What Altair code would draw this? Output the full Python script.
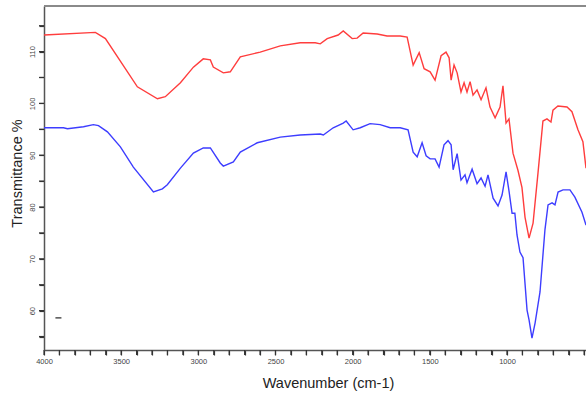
import altair as alt
import pandas as pd

# Red spectrum (upper)
red_wn = [4000, 3667, 3602, 3395, 3265, 3214, 3116, 3032, 2968, 2922, 2903, 2838, 2793,
          2728, 2599, 2469, 2340, 2243, 2210, 2165, 2094, 2061, 2003, 1971, 1932, 1841,
          1777, 1692, 1647, 1608, 1569, 1537, 1498, 1466, 1427, 1395, 1375, 1362, 1343,
          1323, 1298, 1278, 1259, 1239, 1220, 1194, 1168, 1136, 1110, 1077, 1045, 1026,
          1006, 987, 961, 929, 903, 883, 857, 831, 799, 767, 741, 715, 702, 670, 611,
          579, 540, 508, 488]
red_t = [113.2, 113.7, 112.5, 103.2, 100.9, 101.3, 104.0, 107.0, 108.6, 108.4, 107.0, 105.9, 106.1,
         109.0, 109.9, 111.1, 111.7, 111.7, 111.5, 112.5, 113.2, 114.0, 112.5, 112.6, 113.6, 113.4,
         113.0, 113.0, 112.8, 107.4, 109.8, 106.7, 106.1, 104.5, 109.2, 109.9, 108.8, 104.5, 107.4,
         105.9, 102.2, 104.0, 102.2, 104.2, 101.6, 102.6, 100.7, 103.0, 99.3, 97.2, 99.3, 103.4,
         96.2, 97.0, 90.4, 87.1, 83.8, 78.0, 74.0, 76.9, 86.6, 96.6, 97.0, 96.4, 98.7, 99.5, 99.3,
         98.4, 94.9, 92.6, 87.5]

# Blue spectrum (lower)
blue_wn = [4000, 3874, 3848, 3744, 3680, 3647, 3589, 3505, 3421, 3291, 3233, 3201, 3116,
           3032, 2968, 2922, 2858, 2838, 2773, 2728, 2618, 2469, 2340, 2210, 2190, 2126,
           2061, 2042, 1997, 1951, 1887, 1822, 1757, 1692, 1641, 1608, 1582, 1550, 1524,
           1498, 1466, 1440, 1408, 1382, 1362, 1349, 1323, 1298, 1272, 1259, 1226, 1194,
           1168, 1142, 1123, 1090, 1058, 1032, 1006, 987, 967, 949, 935, 916, 896, 870,
           857, 838, 818, 786, 754, 734, 708, 689, 669, 637, 592, 560, 514, 488]
blue_t = [95.3, 95.3, 95.1, 95.5, 95.9, 95.7, 94.5, 91.6, 87.7, 82.9, 83.5, 84.3, 87.5,
          90.4, 91.4, 91.4, 88.5, 87.9, 88.7, 90.6, 92.4, 93.5, 93.9, 94.1, 93.9, 95.3,
          96.2, 96.6, 94.9, 95.3, 96.1, 95.9, 95.3, 95.3, 94.9, 90.6, 89.7, 92.4, 89.9,
          89.3, 89.3, 87.7, 92.0, 92.8, 92.0, 87.2, 90.3, 85.2, 86.2, 84.7, 87.3, 84.5,
          85.6, 84.0, 86.2, 81.7, 80.2, 82.3, 86.8, 83.1, 78.8, 78.8, 74.6, 71.3, 70.2, 60.1,
          58.2, 54.7, 57.6, 63.6, 75.6, 80.4, 80.8, 80.4, 82.9, 83.3, 83.3, 81.9, 79.0, 76.5]

# small stray dash seen in the plot
dash_wn = [3926, 3887]
dash_t = [58.6, 58.6]

# tick positions
x_ticks = list(range(4000, 499, -100))
y_ticks = list(range(55, 119, 5))

df = pd.concat([
    pd.DataFrame({"wn": red_wn, "t": red_t, "s": "red", "o": range(len(red_wn))}),
    pd.DataFrame({"wn": blue_wn, "t": blue_t, "s": "blue", "o": range(len(blue_wn))}),
    pd.DataFrame({"wn": dash_wn, "t": dash_t, "s": "dash", "o": range(len(dash_wn))}),
])

xscale = alt.Scale(domain=[4000, 488], nice=False, zero=False)
yscale = alt.Scale(domain=[52.4, 118.8], nice=False, zero=False)

xaxis = alt.Axis(
    title="Wavenumber (cm-1)", tickCount=35, grid=False,
    labelExpr="(datum.value % 500 == 0 && datum.value >= 1000) ? datum.value : ''",
    labelOverlap=False, labelFlush=False, labelFontSize=7.5, labelColor="#444",
    labelPadding=2, ticks=True, tickSize=5, tickWidth=1.2, tickColor="#333",
    domainColor="#555", domainWidth=1.5,
    titleFontSize=14.5, titleFontWeight="normal", titleColor="#222",
    titleX=284, titleY=33, titleAlign="center", titleBaseline="middle",
)
yaxis = alt.Axis(
    title="Transmittance %", tickCount=13, grid=False,
    labelExpr="datum.value % 10 == 0 ? datum.value : ''",
    labelOverlap=False, labelFlush=False, labelAngle=270, labelAlign="center",
    labelBaseline="bottom", labelFontSize=7.5, labelColor="#444", labelPadding=3,
    ticks=True, tickSize=5, tickWidth=1.2, tickColor="#333",
    domainColor="#555", domainWidth=1.5,
    titleFontSize=14.5, titleFontWeight="normal", titleColor="#222", titleAngle=270,
    titleX=-26.5, titleY=167, titleAlign="center", titleBaseline="middle",
)

lines = alt.Chart(df).mark_line(strokeWidth=1.4).encode(
    x=alt.X("wn:Q", scale=xscale, axis=xaxis),
    y=alt.Y("t:Q", scale=yscale, axis=yaxis),
    color=alt.Color("s:N", scale=alt.Scale(domain=["red", "blue", "dash"],
                                           range=["#ff3d3d", "#3d3dff", "#444444"]), legend=None),
    order="o:Q",
)

xtick_marks = alt.Chart(pd.DataFrame({"wn": x_ticks})).mark_rule(color="#333", strokeWidth=1.2).encode(
    x=alt.X("wn:Q", scale=xscale, axis=xaxis),
    y=alt.value(344), y2=alt.value(349),
)

ytick_marks = alt.Chart(pd.DataFrame({"t": y_ticks})).mark_rule(color="#333", strokeWidth=1.2).encode(
    y=alt.Y("t:Q", scale=yscale, axis=yaxis),
    x=alt.value(-5), x2=alt.value(0),
)

top = alt.Chart(alt.Data(values=[{}])).mark_rule(color="#8a8a8a", strokeWidth=2).encode(
    x=alt.value(0), x2=alt.value(542), y=alt.value(0)
)

chart = alt.layer(lines, xtick_marks, ytick_marks, top).properties(
    width=542, height=344,
    padding={"left": 44, "top": 6, "right": 0, "bottom": 48},
    autosize=alt.AutoSizeParams(type="none"),
).configure_view(stroke=None).configure(font="Liberation Sans")

chart.save("out.html", embed_options={"renderer": "svg", "actions": False})
